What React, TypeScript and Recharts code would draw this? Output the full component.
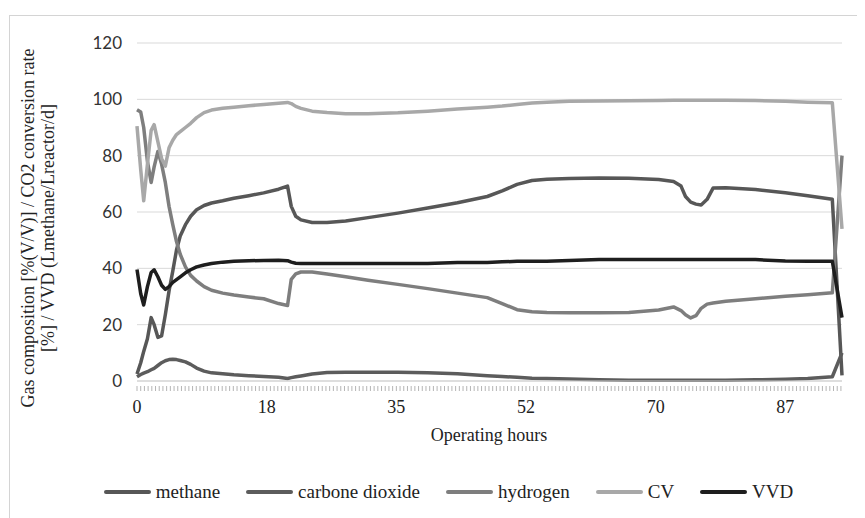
import { CartesianGrid, Legend, Line, LineChart, XAxis, YAxis } from 'recharts';

// operating hours of each reading
const hours = [
  0, 0.5, 0.9, 1.4, 1.9, 2.3, 2.8, 3.3, 3.8, 4.3, 4.8, 5.3, 5.8, 6.5, 7.2, 8, 9, 10, 11.5, 13, 15, 17, 19,
  20.2, 20.7, 21.3, 22, 23.5, 25.5, 28, 31, 35, 39, 43, 47, 49, 51, 53, 55, 58, 62, 66, 70, 72, 73, 73.6,
  74.3, 75, 75.7, 76.5, 77.3, 79, 83, 87, 90, 93.3, 94.6,
];

const methane = [
  2.5, 6.5, 10.5, 15, 22.5, 20, 15.5, 16, 23.5, 32, 39, 46.5, 51.5, 55.5, 58.5, 60.8, 62.3, 63.2, 64, 64.9,
  65.8, 66.8, 68.1, 69.2, 62, 58.5, 57.2, 56.3, 56.3, 56.8, 58, 59.6, 61.4, 63.3, 65.5, 67.5, 69.8, 71.2,
  71.6, 71.9, 72.1, 72, 71.5, 70.8, 69.2, 65.5, 63.5, 62.8, 62.5, 64.5, 68.5, 68.6, 68, 66.8, 65.8, 64.5, 2,
];

const carboneDioxide = [
  1.5, 2.3, 2.8, 3.3, 4, 4.5, 5.5, 6.5, 7.2, 7.6, 7.7, 7.6, 7.3, 6.8, 5.9, 4.6, 3.5, 2.9, 2.6, 2.2, 1.9,
  1.6, 1.3, 0.9, 1.2, 1.5, 1.8, 2.5, 3, 3.1, 3.1, 3.1, 2.9, 2.6, 1.9, 1.6, 1.3, 1, 0.9, 0.7, 0.4, 0.3,
  0.3, 0.3, 0.3, 0.3, 0.3, 0.3, 0.3, 0.3, 0.3, 0.3, 0.4, 0.6, 0.9, 1.5, 10,
];

const hydrogen = [
  96.3, 95.5, 90, 78, 70.5, 76, 81.5, 77, 70.5, 62, 55.5, 49.5, 45, 40.5, 37.5, 35.5, 33.5, 32.2, 31.2,
  30.5, 29.8, 29.2, 27.5, 26.8, 36.1, 38, 38.7, 38.7, 38, 37, 35.8, 34.3, 32.8, 31.2, 29.6, 27.5, 25.3,
  24.6, 24.3, 24.2, 24.2, 24.3, 25.2, 26.3, 25, 23.5, 22.4, 23.2, 25.8, 27.3, 27.7, 28.3, 29.2, 30.1,
  30.6, 31.3, 80,
];

const cv = [
  90.5, 75, 64, 77, 89, 91, 85, 79, 76.3, 82.8, 85.5, 87.5, 88.5, 90, 91.5, 93.5, 95.3, 96.2, 96.8, 97.2,
  97.7, 98.2, 98.6, 98.9, 98.5, 97.5, 96.8, 95.8, 95.3, 94.9, 94.9, 95.2, 95.8, 96.6, 97.2, 97.6, 98.2,
  98.7, 99, 99.3, 99.4, 99.5, 99.6, 99.7, 99.7, 99.7, 99.7, 99.7, 99.7, 99.7, 99.7, 99.7, 99.6, 99.3, 99,
  98.8, 54,
];

const vvd = [
  39.6, 31, 27, 33.5, 38.5, 39.5, 37, 34, 32.5, 33.5, 35, 36, 37, 38.4, 39.5, 40.5, 41.2, 41.7, 42.2, 42.5,
  42.7, 42.8, 42.9, 42.7, 42.2, 41.8, 41.7, 41.7, 41.7, 41.7, 41.7, 41.7, 41.7, 42.1, 42.1, 42.3, 42.5,
  42.5, 42.5, 42.8, 43.1, 43.1, 43.1, 43.1, 43.1, 43.1, 43.1, 43.1, 43.1, 43.1, 43.1, 43.1, 43.1, 42.6,
  42.5, 42.5, 22.5,
];

const xLabels = ['0', '18', '35', '52', '70', '87'];
const yTicks = [0, 20, 40, 60, 80, 100, 120];

const LABEL_STEP = 17.4;
const MINOR_PER_LABEL = 35;
const xTicks = Array.from({ length: 191 }, (_, i) => (i * LABEL_STEP) / MINOR_PER_LABEL);

const series = [
  { key: 'methane', name: 'methane', color: '#575757' },
  { key: 'co2', name: 'carbone dioxide', color: '#5c5c5c' },
  { key: 'hydrogen', name: 'hydrogen', color: '#7e7e7e' },
  { key: 'cv', name: 'CV', color: '#a8a8a8' },
  { key: 'vvd', name: 'VVD', color: '#1e1e1e' },
];

const data = hours.map((h, i) => ({
  h,
  methane: methane[i],
  co2: carboneDioxide[i],
  hydrogen: hydrogen[i],
  cv: cv[i],
  vvd: vvd[i],
}));

const SERIF = '"Liberation Serif", "Times New Roman", serif';

function xTickLabel(v: number): string {
  const k = Math.round(v / LABEL_STEP);
  return Math.abs(v - k * LABEL_STEP) < 1e-6 ? xLabels[k] ?? '' : '';
}

// every minor tick gets its own little mark, labels only on the labelled ones
function XTick(props: any) {
  const { x, y, payload } = props;
  const label = xTickLabel(payload.value);
  return (
    <g>
      <line x1={x} y1={y - 14} x2={x} y2={y - 9} stroke="#b5b5b5" strokeWidth={1} />
      {label && (
        <text x={x} y={y} dy="0.71em" textAnchor="middle" fontFamily={SERIF} fontSize={18} fill="#222">
          {label}
        </text>
      )}
    </g>
  );
}

function YTitle() {
  return (
    <g fontFamily={SERIF} fontSize={18} fill="#222">
      <text x={20} y={220} transform="rotate(-90, 20, 220)" textAnchor="middle" dominantBaseline="central">
        Gas composition [%(V/V)] / CO2 conversion rate
      </text>
      <text x={40} y={220} transform="rotate(-90, 40, 220)" textAnchor="middle" dominantBaseline="central">
        [%] / VVD (Lmethane/Lreactor/d]
      </text>
    </g>
  );
}

function XTitle() {
  return (
    <text x={481} y={433} textAnchor="middle" fontFamily={SERIF} fontSize={18} fill="#222">
      Operating hours
    </text>
  );
}

function LegendRow() {
  return (
    <div
      style={{
        display: 'flex',
        justifyContent: 'center',
        paddingLeft: 24,
        fontFamily: SERIF,
        fontSize: 19,
        lineHeight: '22px',
        color: '#222',
      }}
    >
      {series.map((s, i) => (
        <div key={s.key} style={{ display: 'flex', alignItems: 'center', marginLeft: i ? 26 : 0 }}>
          <svg width={47} height={6}>
            <line x1={2} y1={3} x2={45} y2={3} stroke={s.color} strokeWidth={4} strokeLinecap="round" />
          </svg>
          <span style={{ marginLeft: 5 }}>{s.name}</span>
        </div>
      ))}
    </div>
  );
}

export default function App() {
  return (
    <div style={{ position: 'relative', width: 857, height: 510 }}>
      <div
        style={{
          position: 'absolute',
          left: 1,
          top: 7,
          right: 0,
          bottom: 0,
          borderTop: '1px solid #d4d4d4',
          borderLeft: '1px solid #d4d4d4',
        }}
      />
      <LineChart width={857} height={510} data={data} margin={{ top: 35, right: 23, left: 0, bottom: 55 }}>
        <CartesianGrid vertical={false} stroke="#d9d9d9" />
        <XAxis
          dataKey="h"
          type="number"
          domain={[0, 94.6]}
          ticks={xTicks}
          interval={0}
          tickSize={5}
          tickMargin={14}
          stroke="#d0d0d0"
          tickLine={false}
          tick={XTick}
          height={60}
          label={{ content: XTitle }}
        />
        <YAxis
          domain={[0, 120]}
          ticks={yTicks}
          width={129}
          axisLine={false}
          tickLine={false}
          tickSize={8}
          tickMargin={7}
          tick={{ fill: '#333', fontSize: 17, fontFamily: 'Lato, sans-serif' }}
          label={{ content: YTitle }}
        />
        <Legend verticalAlign="bottom" content={LegendRow} wrapperStyle={{ top: 473, left: 0, width: 857 }} />
        {series.map((s) => (
          <Line
            key={s.key}
            dataKey={s.key}
            name={s.name}
            stroke={s.color}
            strokeWidth={3.5}
            dot={false}
            type="linear"
            strokeLinejoin="round"
            isAnimationActive={false}
          />
        ))}
      </LineChart>
    </div>
  );
}
